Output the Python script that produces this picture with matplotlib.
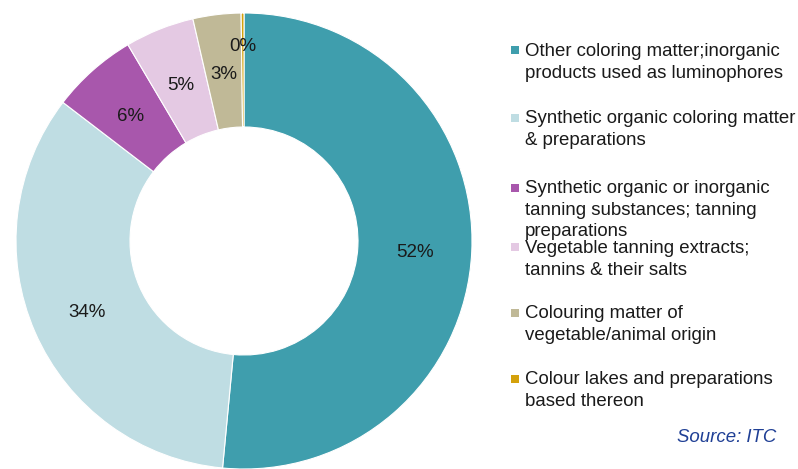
import matplotlib
matplotlib.use("Agg")
import matplotlib.pyplot as plt
import matplotlib.transforms as mtransforms
import numpy as np
from matplotlib.patches import Rectangle

# Share of product groups (percent)
categories = [
    "Other coloring matter;inorganic\nproducts used as luminophores",
    "Synthetic organic coloring matter\n& preparations",
    "Synthetic organic or inorganic\ntanning substances; tanning\npreparations",
    "Vegetable tanning extracts;\ntannins & their salts",
    "Colouring matter of\nvegetable/animal origin",
    "Colour lakes and preparations\nbased thereon",
]
shares = [51.5, 33.9, 6.1, 4.9, 3.4, 0.2]
colors = ["#3F9EAD", "#BFDDE3", "#A857AC", "#E4C9E3", "#C0B997", "#D4A10B"]

plt.rcParams["font.family"] = ["Liberation Sans", "DejaVu Sans"]

W, H = 798, 469
fig = plt.figure(figsize=(W / 100, H / 100), dpi=100)

# donut placed by pixel: centre (244, 241), radius 228
cx, cy, r = 244, 241, 228
ax = fig.add_axes([(cx - r) / W, (H - cy - r) / H, 2 * r / W, 2 * r / H])
wedges, _ = ax.pie(shares, colors=colors, startangle=90, counterclock=False,
                   radius=1.0, wedgeprops=dict(width=0.5, edgecolor="white", linewidth=0.8))
ax.set_xlim(-1, 1)
ax.set_ylim(-1, 1)
ax.set_aspect("equal")
ax.axis("off")

# percentage labels at mid-ring, tiny slice pushed outward; nudged down a bit
shift = ax.transData + mtransforms.ScaledTranslation(0, -3.5 / 100, fig.dpi_scale_trans)
for w, v in zip(wedges, shares):
    ang = np.deg2rad((w.theta1 + w.theta2) / 2)
    rad = 0.75 if v >= 1 else 0.87
    ax.text(rad * np.cos(ang), rad * np.sin(ang), f"{v:.0f}%", transform=shift,
            ha="center", va="center", fontsize=13.5, color="#1a1a1a")

# legend, drawn manually to follow the original slot positions (top px)
legend_top = [43, 110, 180, 240, 305, 371]
for lab, col, top in zip(categories, colors, legend_top):
    fig.patches.append(Rectangle((511 / W, 1 - (top + 11.5) / H), 8 / W, 8 / H,
                                 transform=fig.transFigure, facecolor=col,
                                 edgecolor="none"))
    fig.text(525 / W, 1 - top / H, lab, ha="left", va="top", fontsize=13.4,
             color="#1a1a1a", linespacing=1.35)

fig.text(776 / W, 1 - 437 / H, "Source: ITC", ha="right", va="center",
         fontsize=13.4, style="italic", color="#1F3F95")

fig.savefig("out.png", dpi=100)
